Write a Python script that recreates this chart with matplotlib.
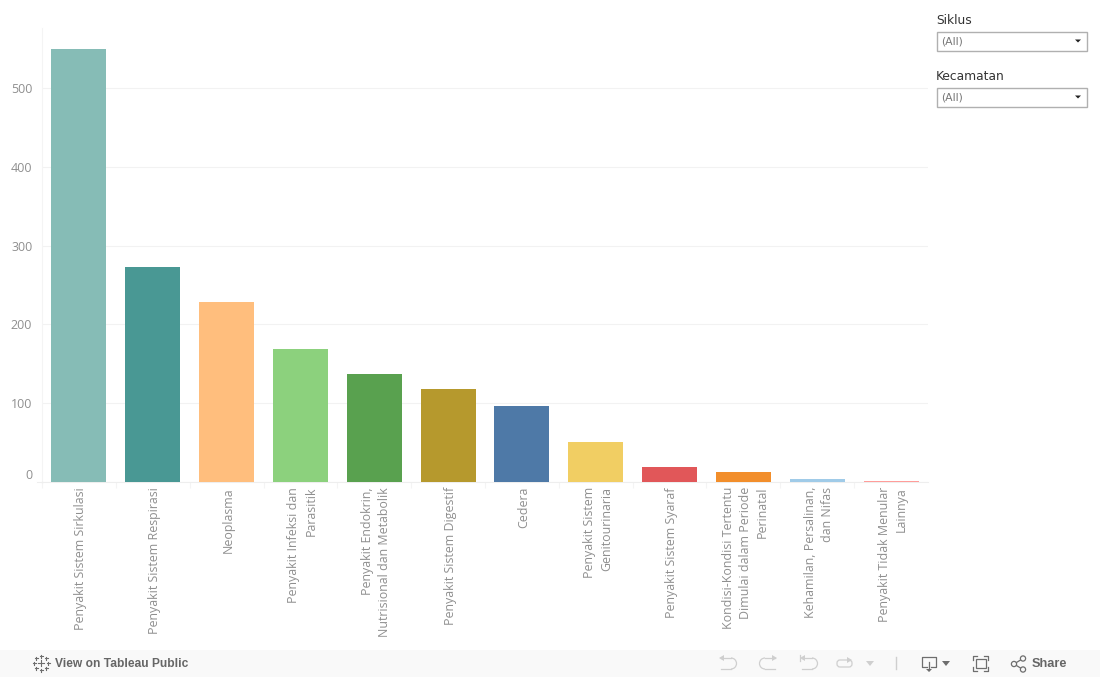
import matplotlib
matplotlib.use("Agg")
import matplotlib.pyplot as plt
from matplotlib.patches import Rectangle, Circle, Polygon, Arc, FancyBboxPatch

categories = [
    "Penyakit Sistem Sirkulasi",
    "Penyakit Sistem Respirasi",
    "Neoplasma",
    "Penyakit Infeksi dan\nParasitik",
    "Penyakit Endokrin,\nNutrisional dan Metabolik",
    "Penyakit Sistem Digestif",
    "Cedera",
    "Penyakit Sistem\nGenitourinaria",
    "Penyakit Sistem Syaraf",
    "Kondisi-Kondisi Tertentu\nDimulai dalam Periode\nPerinatal",
    "Kehamilan, Persalinan,\ndan Nifas",
    "Penyakit Tidak Menular\nLainnya",
]
values = [550, 273, 228, 169, 137, 118, 97, 51, 19, 13, 4, 1]
colors = ["#86BCB6", "#499894", "#FFBE7D", "#8CD17D", "#59A14F", "#B6992D",
          "#4E79A7", "#F1CE63", "#E15759", "#F28E2B", "#A0CBE8", "#FF9D9A"]
y_ticks = [0, 100, 200, 300, 400, 500]

W, H = 1100, 677
GREY = "#8f8f8f"
fig = plt.figure(figsize=(W / 100, H / 100), dpi=100)

# main chart
ax = fig.add_axes([42 / W, 1 - 482 / H, (928 - 42) / W, (482 - 28) / H])
ax.bar(range(len(values)), values, width=0.745, color=colors, zorder=3)
ax.set_xlim(-0.5, len(values) - 0.5)
ax.set_ylim(0, 576.5)
ax.set_yticks(y_ticks)
ax.grid(axis="y", color="#f2f2f2", lw=0.8, zorder=0)
ax.tick_params(axis="y", length=0, pad=7, labelsize=9, labelcolor=GREY)
for lab in ax.get_yticklabels():
    lab.set_family("Open Sans")
ax.get_yticklabels()[0].set_va("bottom")

ax.set_xticks([i - 0.5 for i in range(len(values))])
ax.set_xticklabels([])
ax.tick_params(axis="x", length=4, width=0.8, color="#f4f4f4")
for i, c in enumerate(categories):
    ax.annotate(c, xy=(i, 0), xycoords=("data", "axes fraction"), xytext=(2, -5),
                textcoords="offset pixels", rotation=90, ha="center", va="top",
                multialignment="right", fontsize=8.9, color=GREY,
                family="Open Sans", linespacing=1.42)
for s in ["top", "right"]:
    ax.spines[s].set_visible(False)
ax.spines["left"].set_color("#f4f4f4")
ax.spines["bottom"].set_color("#eeeeee")

# page furniture, in pixel coordinates
ov = fig.add_axes([0, 0, 1, 1], zorder=5)
ov.set_xlim(0, W)
ov.set_ylim(H, 0)
ov.axis("off")
ov.patch.set_alpha(0)

ov.plot([37, 42], [482, 482], color="#eeeeee", lw=0.8)

# filters
for title, ty, by in [("Siklus", 20.5, 31), ("Kecamatan", 76.5, 87)]:
    ov.text(936, ty, title, family="DejaVu Sans", fontsize=8.8, color="#333333", va="center")
    ov.add_patch(Rectangle((937, by + 0.5), 149.5, 19, fc="white", ec="#b0b0b0", lw=1))
    ov.text(941, by + 10, "(All)", family="DejaVu Sans", fontsize=7.8, color="#777777", va="center")
    ov.add_patch(Polygon([(1075, by + 8.5), (1081, by + 8.5), (1078, by + 11.5)], fc="#222222", ec="none"))

# toolbar
ov.add_patch(Rectangle((0, 650), W, 27, fc="#f9f9f9", ec="none"))
ICON = "#6e6e6e"
FADED = "#cfcfcf"

def cross(x, y, r, lw=0.8):
    ov.plot([x - r, x + r], [y, y], color=ICON, lw=lw)
    ov.plot([x, x], [y - r, y + r], color=ICON, lw=lw)

for dx, dy, r in [(0, 0, 3), (-5, -5, 1.5), (5, -5, 1.5), (-5, 5, 1.5), (5, 5, 1.5),
                  (0, -7, 1.5), (0, 7, 1.5), (-7, 0, 1.5), (7, 0, 1.5)]:
    cross(41 + dx, 663 + dy, r)
ov.text(55, 664, "View on Tableau Public", family="Liberation Sans", fontweight="bold",
        fontsize=8.65, color="#666666", va="center")

def undo(x, flip=False, bar=False):
    s = -1 if flip else 1
    ov.plot([x - 7 * s, x + 3 * s], [658, 658], color=FADED, lw=0.9)
    ov.add_patch(Arc((x + 3 * s, 663.5), 11, 11, theta1=-90, theta2=90, angle=0 if not flip else 180,
                     color=FADED, lw=0.9))
    ov.plot([x + 3 * s, x - 7 * s], [669, 669], color=FADED, lw=0.9)
    ov.add_patch(Polygon([(x - 9 * s, 658), (x - 4 * s, 655), (x - 4 * s, 661)], fc=FADED, ec="none"))
    if bar:
        ov.plot([x - 9 * s, x - 9 * s], [655, 661], color=FADED, lw=0.9)

undo(728)
undo(768, flip=True)
undo(809, bar=True)
ov.add_patch(FancyBboxPatch((837, 660), 15, 7, boxstyle="round,pad=0,rounding_size=3",
                            fc="none", ec=FADED, lw=0.9))
ov.add_patch(Polygon([(847, 657), (852, 660), (847, 663)], fc=FADED, ec="none"))
ov.add_patch(Polygon([(866, 661), (874, 661), (870, 666)], fc=FADED, ec="none"))
ov.plot([895.5, 895.5], [657, 669], color=FADED, lw=1)

# download
ov.plot([927, 922, 922, 936, 936, 931], [667, 667, 657, 657, 667, 667], color=ICON, lw=0.9)
ov.plot([929, 929], [662, 670], color=ICON, lw=0.9)
ov.add_patch(Polygon([(926, 669), (932, 669), (929, 672)], fc=ICON, ec="none"))
ov.add_patch(Polygon([(942, 661), (950, 661), (946, 666)], fc=ICON, ec="none"))

# fullscreen
ov.add_patch(Rectangle((976, 659), 9.5, 9, fc="none", ec=ICON, lw=0.9))
for xs, ys in [([973, 973, 977], [660, 656, 656]), ([984, 988, 988], [656, 656, 660]),
               ([973, 973, 977], [667, 671, 671]), ([984, 988, 988], [671, 671, 667])]:
    ov.plot(xs, ys, color=ICON, lw=0.9)

# share
ov.plot([1014, 1023], [664, 658.5], color=ICON, lw=0.9)
ov.plot([1014, 1023], [664, 669.5], color=ICON, lw=0.9)
for cx, cy, r in [(1014, 664, 2.6), (1023, 658.5, 2.6), (1023, 669.5, 2.6)]:
    ov.add_patch(Circle((cx, cy), r, fc="#f9f9f9", ec=ICON, lw=0.9, zorder=6))
ov.text(1032, 664, "Share", family="Liberation Sans", fontweight="bold",
        fontsize=9.2, color="#666666", va="center")

fig.savefig("out.png", dpi=100)
